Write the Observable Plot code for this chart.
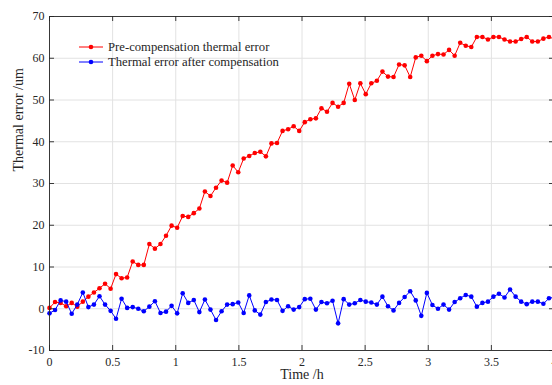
<!DOCTYPE html>
<html>
<head>
<meta charset="utf-8">
<script src="https://cdn.jsdelivr.net/npm/d3@7"></script>
<script src="https://cdn.jsdelivr.net/npm/@observablehq/plot@0.6"></script>
<style>
  html, body { margin: 0; padding: 0; background: #fff; }
</style>
</head>
<body>
<div id="chart"></div>
<script>
// Sampling times (h)
const timeH = [0, 0.044, 0.088, 0.132, 0.176, 0.220, 0.264, 0.308, 0.352, 0.396, 0.440, 0.484, 0.527, 0.571, 0.615, 0.659, 0.703, 0.747, 0.791, 0.835, 0.879, 0.923, 0.967, 1.011, 1.055, 1.099, 1.143, 1.187, 1.231, 1.275, 1.319, 1.363, 1.407, 1.451, 1.495, 1.538, 1.582, 1.626, 1.670, 1.714, 1.758, 1.802, 1.846, 1.890, 1.934, 1.978, 2.022, 2.066, 2.110, 2.154, 2.198, 2.242, 2.286, 2.330, 2.374, 2.418, 2.462, 2.505, 2.549, 2.593, 2.637, 2.681, 2.725, 2.769, 2.813, 2.857, 2.901, 2.945, 2.989, 3.033, 3.077, 3.121, 3.165, 3.209, 3.253, 3.297, 3.341, 3.385, 3.429, 3.473, 3.516, 3.560, 3.604, 3.648, 3.692, 3.736, 3.780, 3.824, 3.868, 3.912, 3.956, 4.000];

// Pre-compensation thermal error (um)
const preComp = [0.2, 1.6, 1.4, 0.6, 1.4, 0.5, 1.7, 2.9, 3.9, 4.9, 6.0, 4.8, 8.3, 7.3, 7.5, 11.3, 10.5, 10.5, 15.5, 14.4, 15.5, 17.5, 19.9, 19.4, 22.2, 22.0, 22.9, 24.0, 28.1, 27.0, 29.0, 30.7, 30.2, 34.3, 32.7, 36.0, 36.6, 37.3, 37.6, 36.5, 39.6, 39.7, 42.6, 43.0, 43.7, 42.6, 44.7, 45.4, 45.6, 48.0, 47.2, 49.3, 48.4, 49.3, 53.9, 50.0, 54.0, 51.4, 54.0, 54.6, 56.8, 55.6, 55.5, 58.5, 58.3, 55.5, 60.2, 60.6, 59.3, 60.6, 61.0, 60.9, 62.0, 60.6, 63.7, 63.0, 62.7, 65.1, 65.1, 64.5, 65.1, 65.1, 64.5, 64.0, 64.0, 64.6, 65.1, 64.0, 64.0, 64.7, 65.1, 64.6];

// Thermal error after compensation (um)
const postComp = [-1.1, -0.3, 2.0, 1.7, -1.2, 1.0, 3.9, 0.4, 1.0, 3.0, 1.0, -0.5, -2.4, 2.4, 0.2, 0.4, 0.0, -0.6, 0.5, 1.8, -1.0, -0.7, 0.7, -1.1, 3.7, 1.4, 2.1, -0.8, 2.2, -0.2, -2.7, -0.6, 1.0, 1.1, 1.5, -1.0, 3.2, -0.4, -1.4, 1.6, 2.2, 2.1, -0.5, 0.6, -0.2, 0.4, 2.3, 2.4, -0.2, 1.6, 1.3, 1.9, -3.5, 2.3, 1.0, 1.3, 2.1, 1.7, 1.5, 1.0, 2.9, 0.6, -0.4, 1.4, 2.8, 4.2, 2.0, -1.7, 3.8, 0.9, 0.0, 1.0, -0.2, 1.6, 2.5, 3.3, 2.9, 0.5, 1.4, 1.7, 2.9, 3.6, 2.7, 4.6, 2.9, 1.7, 1.1, 1.7, 1.7, 1.2, 2.5, 2.8];

const seriesNames = ["Pre-compensation thermal error", "Thermal error after compensation"];
const seriesColors = ["#ff0000", "#0000ff"];
const xTicks = [0, 0.5, 1, 1.5, 2, 2.5, 3, 3.5, 4];
const yTicks = [-10, 0, 10, 20, 30, 40, 50, 60, 70];
const xTitle = "Time /h";
const yTitle = "Thermal error /um";

const pre = timeH.map((t, i) => ({t, v: preComp[i]}));
const post = timeH.map((t, i) => ({t, v: postComp[i]}));

const axisColor = "#262626";
const gridColor = "#e2e2e2";
// inward tick lengths expressed in data units (≈5px)
const tkX = 5 * (4 / 505);
const tkY = 5 * (80 / 334);

const svg = Plot.plot({
  width: 552,
  height: 385,
  marginLeft: 49,
  marginTop: 16,
  marginBottom: 35,
  marginRight: -2,
  x: {domain: [0, 4], label: null},
  y: {domain: [-10, 70], label: null},
  style: {
    fontFamily: "'Liberation Serif', 'Times New Roman', serif",
    fontSize: "12px",
    color: axisColor,
    background: "#fff",
    overflow: "hidden"
  },
  marks: [
    Plot.gridX(xTicks, {stroke: gridColor, strokeOpacity: 1, strokeWidth: 1}),
    Plot.gridY(yTicks, {stroke: gridColor, strokeOpacity: 1, strokeWidth: 1}),
    Plot.line(pre, {x: "t", y: "v", stroke: seriesColors[0], strokeWidth: 1}),
    Plot.dot(pre, {x: "t", y: "v", r: 2.3, fill: seriesColors[0], stroke: "none"}),
    Plot.line(post, {x: "t", y: "v", stroke: seriesColors[1], strokeWidth: 1}),
    Plot.dot(post, {x: "t", y: "v", r: 2.3, fill: seriesColors[1], stroke: "none"}),
    Plot.frame({stroke: axisColor, strokeWidth: 0.9}),
    // inward ticks (bottom/top/left/right)
    Plot.ruleX(xTicks, {x: d => d, y1: -10, y2: -10 + tkY, stroke: axisColor, strokeWidth: 0.9}),
    Plot.ruleX(xTicks, {x: d => d, y1: 70, y2: 70 - tkY, stroke: axisColor, strokeWidth: 0.9}),
    Plot.ruleY(yTicks, {y: d => d, x1: 0, x2: tkX, stroke: axisColor, strokeWidth: 0.9}),
    Plot.ruleY(yTicks, {y: d => d, x1: 4, x2: 4 - tkX, stroke: axisColor, strokeWidth: 0.9}),
    Plot.axisX(xTicks, {tickSize: 0, tickPadding: 7, tickFormat: d => String(d), label: null, fontSize: 12}),
    Plot.axisY(yTicks, {tickSize: 0, tickPadding: 5, tickFormat: d => String(d), label: null, fontSize: 12}),
    Plot.text([xTitle], {frameAnchor: "bottom", dy: 28.5, fontSize: 14, fill: axisColor}),
    Plot.text([yTitle], {frameAnchor: "left", rotate: -90, dx: -31, dy: -12, fontSize: 14, fill: axisColor})
  ]
});

// Legend (MATLAB-style, no box) drawn inside the axes
const lg = d3.select(svg).append("g")
  .attr("font-size", 12.7)
  .attr("fill", axisColor)
  .attr("text-anchor", "start");
const legendY = [47, 62];
seriesNames.forEach((name, i) => {
  const y = legendY[i];
  lg.append("line").attr("x1", 79).attr("x2", 103).attr("y1", y).attr("y2", y)
    .attr("stroke", seriesColors[i]).attr("stroke-width", 1);
  lg.append("circle").attr("cx", 91).attr("cy", y).attr("r", 2.3).attr("fill", seriesColors[i]);
  lg.append("text").attr("x", 108).attr("y", y + 4.3).attr("text-anchor", "start").text(name);
});

document.getElementById("chart").appendChild(svg);
</script>
</body>
</html>
